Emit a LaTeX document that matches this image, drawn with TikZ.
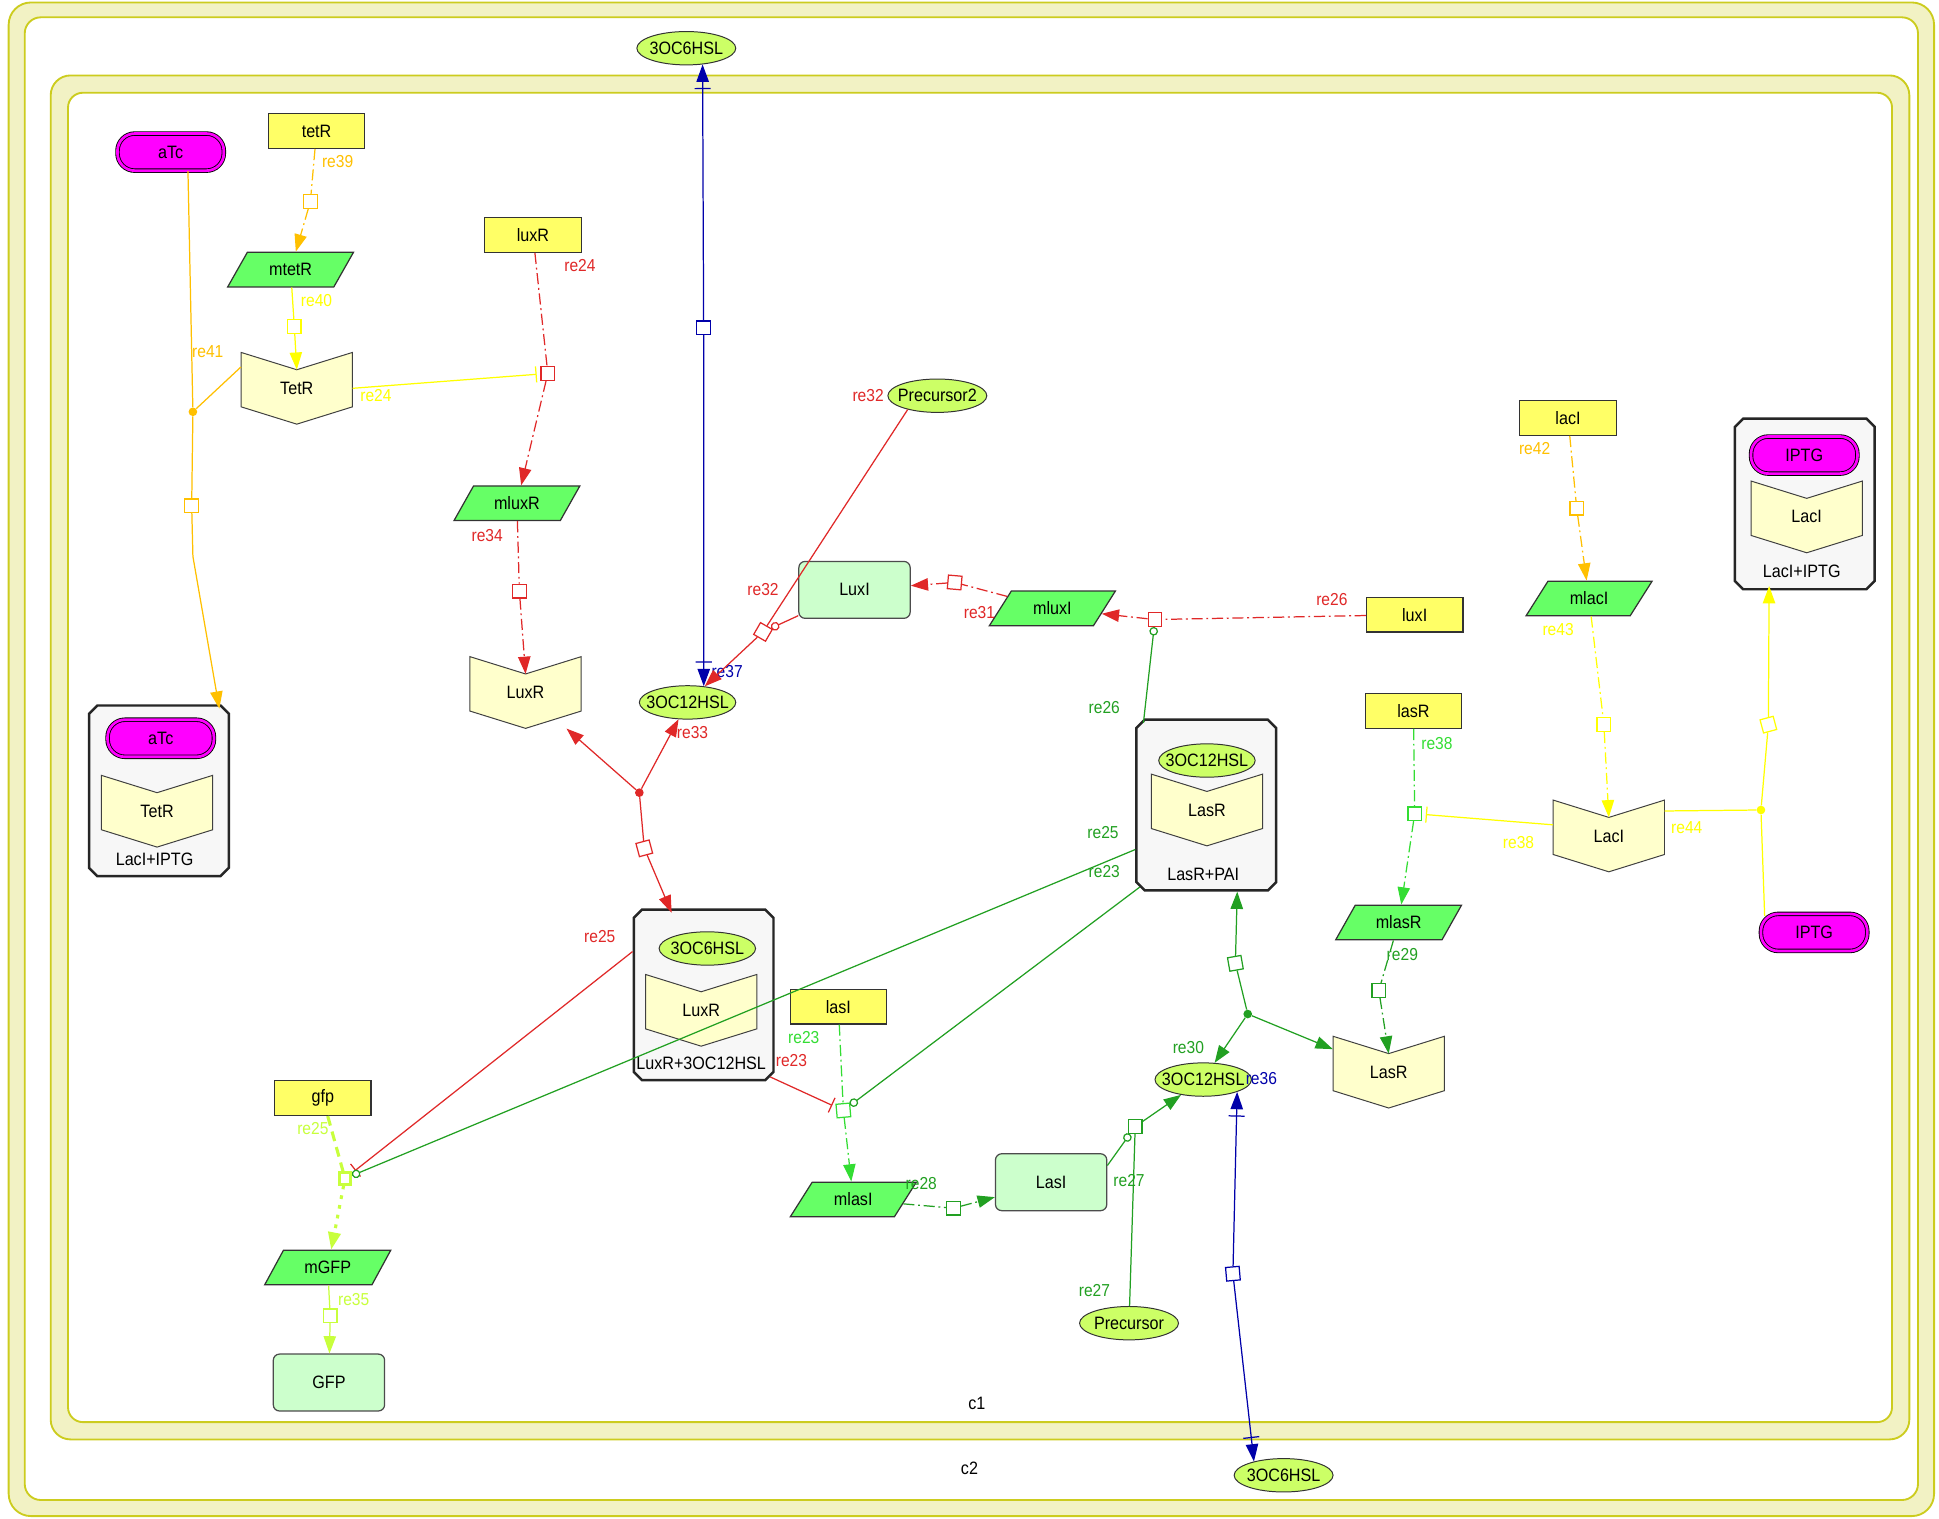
\documentclass[tikz,border=0pt]{standalone}
\usepackage{fontspec}
\setmainfont{Liberation Sans}[FakeStretch=0.9]
\usetikzlibrary{arrows.meta,shapes.geometric,shapes.misc,calc}

\definecolor{compfill}{HTML}{F2F2C4}
\definecolor{compline}{HTML}{CCCC1E}
\definecolor{genefill}{HTML}{FFFF66}
\definecolor{rnafill}{HTML}{66FF66}
\definecolor{rcptfill}{HTML}{FFFFCC}
\definecolor{protfill}{HTML}{CCFFCC}
\definecolor{molfill}{HTML}{CCFF66}
\definecolor{drugfill}{HTML}{FF00FF}
\definecolor{cxfill}{HTML}{F7F7F7}
\definecolor{reorange}{HTML}{FFC000}
\definecolor{reyellow}{HTML}{FFFF00}
\definecolor{rered}{HTML}{E02828}
\definecolor{regreen}{HTML}{22A022}
\definecolor{relgreen}{HTML}{33DD33}
\definecolor{reblue}{HTML}{0000AA}
\definecolor{reyg}{HTML}{C8FF3C}

\tikzset{
  nfont/.style={font=\fontsize{14.5}{16}\selectfont},
  lfont/.style={font=\fontsize{14}{16}\selectfont},
  gene/.style={nfont, draw=black!80, fill=genefill, line width=1pt, minimum width=78pt, minimum height=28pt, inner sep=0pt},
  rna/.style={nfont, trapezium, trapezium left angle=52, trapezium right angle=128, trapezium stretches=true, draw=black!80, fill=rnafill, line width=1pt, minimum width=102pt, minimum height=28pt, inner sep=0pt},
  prot/.style={nfont, rounded corners=5pt, draw=black!70, fill=protfill, line width=1pt, minimum width=90pt, minimum height=46pt},
  mol/.style={nfont, ellipse, draw=black!80, fill=molfill, line width=0.8pt, minimum width=80pt, minimum height=27pt, inner xsep=-14pt, inner ysep=0pt},
  drug/.style={nfont, rounded corners=14pt, draw=black, double=drugfill, double distance=2.2pt, fill=drugfill, line width=0.7pt, minimum width=86pt, minimum height=30pt},
  rcpt/.style={nfont, minimum width=90pt, minimum height=58pt, inner sep=0pt},
  rcptline/.style={draw=black!75, fill=rcptfill, line width=0.8pt},
  cplx/.style={chamfered rectangle, chamfered rectangle xsep=5pt, chamfered rectangle ysep=5pt, draw=black!85, line width=2pt, fill=cxfill, minimum width=113pt, minimum height=138pt},
  rx/.style={line width=1pt},
  transc/.style={dash pattern=on 9pt off 3pt on 1.5pt off 3pt},
  arr/.style={-{Triangle[length=14pt,width=10pt]}},
  tport/.style={-{Bar[width=13pt,sep=5pt]Triangle[length=14pt,width=10pt]}},
  inhib/.style={-{Bar[width=13pt]}, shorten >=3pt},
  catal/.style={-{Circle[open,length=7pt,fill=white]}},
  proc/.style={draw, fill=white, minimum size=11pt, inner sep=0pt, line width=1pt},
  junc/.style={circle, fill, minimum size=7pt, inner sep=0pt},
  comp/.style={draw=compline, line width=1.5pt},
}

% receptor: name, x, y, label
\newcommand{\receptor}[4]{%
  \filldraw[rcptline] (#2-45,#3-29) -- (#2,#3-15) -- (#2+45,#3-29) -- (#2+45,#3+15) -- (#2,#3+29) -- (#2-45,#3+15) -- cycle;
  \node[rcpt] (#1) at (#2,#3) {#4};
  \coordinate (#1n) at (#2,#3-15);
}

\begin{document}
\begin{tikzpicture}[x=1pt,y=-1pt]
\useasboundingbox (0,0) rectangle (1568,1228);

% compartments
\draw[comp, fill=compfill, rounded corners=18pt] (7,2) rectangle (1564,1226);
\draw[comp, fill=white, rounded corners=13pt] (20,14) rectangle (1551,1213);
\draw[comp, fill=compfill, rounded corners=16pt] (41,61) rectangle (1544,1164);
\draw[comp, fill=white, rounded corners=12pt] (55,75) rectangle (1530,1150);
\node[nfont] (c1) at (790,1135) {c1};
\node[nfont] (c2) at (784,1187) {c2};

% complexes
\node[cplx] (cxTet) at (128.5,639.5) {};
\node[drug] (aTc2) at (130,597) {aTc};
\receptor{TetR2}{127}{656}{TetR}
\node[nfont] (cxTetl) at (125,695) {LacI+IPTG};

\node[cplx] (cxLacI) at (1459.5,407.5) {};
\node[drug] (IPTG1) at (1459,368) {IPTG};
\receptor{LacI1}{1461}{418}{LacI}
\node[nfont] (cxLacIl) at (1457,462) {LacI+IPTG};

\node[cplx] (cxLasR) at (975.5,651) {};
\node[mol, minimum width=78pt] (hsl12c) at (976,615) {3OC12HSL};
\receptor{LasR1}{976}{655}{LasR}
\node[nfont] (cxLasRl) at (973,707) {LasR+PAI};

\node[cplx] (cxLuxR) at (569,804.5) {};
\node[mol, minimum width=78pt] (hsl6c) at (572,767) {3OC6HSL};
\receptor{LuxR2}{567}{817}{LuxR}
\node[nfont] (cxLuxRl) at (567,860) {LuxR+3OC12HSL};

% species
\node[drug] (aTc1) at (138,123) {aTc};
\node[drug] (IPTG2) at (1467,754) {IPTG};
\node[gene] (tetR) at (256,106) {tetR};
\node[gene] (luxR) at (431,190) {luxR};
\node[gene] (lacI) at (1268,338) {lacI};
\node[gene] (luxIg) at (1144,497) {luxI};
\node[gene] (lasRg) at (1143,575) {lasR};
\node[gene] (lasIg) at (678,814) {lasI};
\node[gene] (gfp) at (261,888) {gfp};
\node[rna] (mtetR) at (235,218) {mtetR};
\node[rna] (mluxR) at (418,407) {mluxR};
\node[rna] (mluxI) at (851,492) {mluxI};
\node[rna] (mlacI) at (1285,484) {mlacI};
\node[rna] (mlasR) at (1131,746) {mlasR};
\node[rna] (mlasI) at (690,970) {mlasI};
\node[rna] (mGFP) at (265,1025) {mGFP};
\receptor{TetR1}{240}{314}{TetR}
\receptor{LuxR1}{425}{560}{LuxR}
\receptor{LacI2}{1301}{676}{LacI}
\receptor{LasR2}{1123}{867}{LasR}
\node[prot] (LuxI) at (691,477) {LuxI};
\node[prot] (LasI) at (850,956) {LasI};
\node[prot] (GFP) at (266,1118) {GFP};
\node[mol] (hsl6a) at (555,39) {3OC6HSL};
\node[mol, minimum width=78pt] (hsl12a) at (556,568) {3OC12HSL};
\node[mol] (prec2) at (758,320) {Precursor2};
\node[mol, minimum width=78pt] (hsl12b) at (973,873) {3OC12HSL};
\node[mol] (prec) at (913,1070) {Precursor};
\node[mol] (hsl6b) at (1038,1193) {3OC6HSL};

% reaction labels
\node[lfont, text=reorange] (l39) at (273,131) {re39};
\node[lfont, text=reyellow] (l40) at (256,243) {re40};
\node[lfont, text=reorange] (l41) at (168,284) {re41};
\node[lfont, text=rered] (l24a) at (469,215) {re24};
\node[lfont, text=reyellow] (l24b) at (304,320) {re24};
\node[lfont, text=rered] (l34) at (394,433) {re34};
\node[lfont, text=rered] (l33) at (560,592) {re33};
\node[lfont, text=reblue] (l37) at (588,543) {re37};
\node[lfont, text=rered] (l32a) at (702,320) {re32};
\node[lfont, text=rered] (l32b) at (617,477) {re32};
\node[lfont, text=rered] (l31) at (792,495) {re31};
\node[lfont, text=rered] (l26a) at (1077,485) {re26};
\node[lfont, text=regreen] (l26b) at (893,572) {re26};
\node[lfont, text=reorange] (l42) at (1241,363) {re42};
\node[lfont, text=reyellow] (l43) at (1260,509) {re43};
\node[lfont, text=reyellow] (l44) at (1364,669) {re44};
\node[lfont, text=relgreen] (l38a) at (1162,601) {re38};
\node[lfont, text=reyellow] (l38b) at (1228,681) {re38};
\node[lfont, text=regreen] (l29) at (1134,772) {re29};
\node[lfont, text=regreen] (l30) at (961,847) {re30};
\node[lfont, text=reblue] (l36) at (1020,872) {re36};
\node[lfont, text=regreen] (l27a) at (913,955) {re27};
\node[lfont, text=regreen] (l27b) at (885,1044) {re27};
\node[lfont, text=regreen] (l28) at (745,957) {re28};
\node[lfont, text=relgreen] (l23a) at (650,839) {re23};
\node[lfont, text=rered] (l23b) at (640,858) {re23};
\node[lfont, text=regreen] (l23c) at (893,705) {re23};
\node[lfont, text=reyg] (l25a) at (253,913) {re25};
\node[lfont, text=rered] (l25b) at (485,757) {re25};
\node[lfont, text=regreen] (l25c) at (892,673) {re25};
\node[lfont, text=reyg] (l35) at (286,1051) {re35};

% re39, re40, re41
\node[proc, draw=reorange] (p39) at (251,163) {};
\draw[rx, reorange, transc] (tetR) -- (p39);
\draw[rx, reorange, transc, arr] (p39) -- (mtetR);
\node[proc, draw=reyellow] (p40) at (238,264) {};
\draw[rx, reyellow] (mtetR) -- (p40);
\draw[rx, reyellow, arr] (p40) -- (TetR1n);
\node[junc, reorange] (j41) at (156,333) {};
\node[proc, draw=reorange] (p41) at (155,409) {};
\draw[rx, reorange] ($(aTc1.south)+(14,0)$) -- (j41);
\draw[rx, reorange] ($(TetR1.north west)+(0,12)$) -- (j41);
\draw[rx, reorange] (j41) -- (p41);
\draw[rx, reorange, arr] (p41) -- (156,450) -- ($(cxTet.north east)+(-5,0)$);

% re24, re34, re33
\node[proc, draw=rered] (p24) at (443,302) {};
\draw[rx, rered, transc] (luxR) -- (p24);
\draw[rx, rered, transc, arr] (p24) -- (mluxR);
\draw[rx, reyellow, inhib] (TetR1.east) -- (p24);
\node[proc, draw=rered] (p34) at (420,478) {};
\draw[rx, rered, transc] (mluxR) -- (p34);
\draw[rx, rered, transc, arr] (p34) -- (LuxR1n);
\node[junc, rered] (j33) at (517,641) {};
\node[proc, draw=rered, rotate=15] (p33) at (521,686) {};
\draw[rx, rered, arr] (j33) -- (LuxR1);
\draw[rx, rered, arr] (j33) -- (hsl12a);
\draw[rx, rered] (j33) -- (p33);
\draw[rx, rered, arr] (p33) -- ($(cxLuxR.north west)+(28,0)$);

% re37, re32, re31, re26
\node[proc, draw=reblue] (p37) at (569,265) {};
\draw[rx, reblue, tport] (p37) -- (hsl6a.-45);
\draw[rx, reblue, tport] (p37) -- (hsl12a.45);
\node[proc, draw=rered, rotate=-30] (p32) at (617,511) {};
\draw[rx, rered] (prec2.-155) -- (p32);
\draw[rx, rered, arr] (p32) -- (hsl12a);
\draw[rx, rered, catal] (LuxI) -- (p32);
\node[proc, draw=rered, rotate=-5] (p31) at (772,471) {};
\draw[rx, rered, transc] (mluxI) -- (p31);
\draw[rx, rered, transc, arr] (p31) -- (LuxI);
\node[proc, draw=rered] (p26) at (934,501) {};
\draw[rx, rered, transc] (luxIg) -- (p26);
\draw[rx, rered, transc, arr] (p26) -- (mluxI);
\draw[rx, regreen, catal] ($(cxLasR.north west)+(3,0)$) -- (p26);

% re42, re43, re44, re38, re29
\node[proc, draw=reorange] (p42) at (1275,411) {};
\draw[rx, reorange, transc] (lacI) -- (p42);
\draw[rx, reorange, transc, arr] (p42) -- (mlacI);
\node[proc, draw=reyellow] (p43) at (1297,586) {};
\draw[rx, reyellow, transc] (mlacI) -- (p43);
\draw[rx, reyellow, transc, arr] (p43) -- (LacI2n);
\node[junc, reyellow] (j44) at (1424,655) {};
\node[proc, draw=reyellow, rotate=15] (p44) at (1430,586) {};
\draw[rx, reyellow] ($(IPTG2.north)+(-40,2)$) -- (j44);
\draw[rx, reyellow] ($(LacI2.north east)+(0,9)$) -- (j44);
\draw[rx, reyellow] (j44) -- (p44);
\draw[rx, reyellow, arr] (p44) -- ($(cxLacI.south west)+(25,0)$);
\node[proc, draw=relgreen] (p38) at (1144,658) {};
\draw[rx, relgreen, transc] (lasRg) -- (p38);
\draw[rx, relgreen, transc, arr] (p38) -- (mlasR);
\draw[rx, reyellow, inhib] ($(LacI2.west)+(0,-9)$) -- (p38);
\node[proc, draw=regreen] (p29) at (1115,801) {};
\draw[rx, regreen, transc] (mlasR) -- (p29);
\draw[rx, regreen, transc, arr] (p29) -- (LasR2n);

% re30, re36, re27, re28
\node[junc, regreen] (j30) at (1009,820) {};
\node[proc, draw=regreen, rotate=10] (p30) at (999,779) {};
\draw[rx, regreen] (j30) -- (p30);
\draw[rx, regreen, arr] (p30) -- ($(cxLasR.south)+(25,0)$);
\draw[rx, regreen, arr] (j30) -- (hsl12b);
\draw[rx, regreen, arr] (j30) -- (LasR2);
\node[proc, draw=reblue, rotate=5] (p36) at (997,1030) {};
\draw[rx, reblue, tport] (p36) -- (hsl12b.-20);
\draw[rx, reblue, tport] (p36) -- (hsl6b.155);
\node[proc, draw=regreen] (p27) at (918,911) {};
\draw[rx, regreen] (prec) -- (p27);
\draw[rx, regreen, arr] (p27) -- (hsl12b);
\draw[rx, regreen, catal] ($(LasI.north east)+(0,10)$) -- (p27);
\node[proc, draw=regreen] (p28) at (771,977) {};
\draw[rx, regreen, transc] (mlasI) -- (p28);
\draw[rx, regreen, transc, arr] (p28) -- (LasI);

% re23, re25, re35
\node[proc, draw=relgreen, rotate=5] (p23) at (682,898) {};
\draw[rx, relgreen, transc] (lasIg) -- (p23);
\draw[rx, relgreen, transc, arr] (p23) -- (mlasI);
\draw[rx, rered, inhib] (cxLuxR.south east) -- (p23);
\draw[rx, regreen, catal] (cxLasR.south west) -- (p23);
\node[proc, draw=reyg, line width=2.5pt, minimum size=9pt] (p25) at (279,953) {};
\draw[line width=2.5pt, reyg, dash pattern=on 8pt off 5pt] (gfp) -- (p25);
\draw[line width=2.5pt, reyg, dash pattern=on 3pt off 5pt, arr] (p25) -- (mGFP);
\draw[rx, rered, inhib] ($(cxLuxR.west)+(0,-35)$) -- (p25);
\draw[rx, regreen, catal] ($(cxLasR.west)+(0,36)$) -- (p25);
\node[proc, draw=reyg] (p35) at (267,1064) {};
\draw[rx, reyg] (mGFP) -- (p35);
\draw[rx, reyg, arr] (p35) -- (GFP);
\end{tikzpicture}
\end{document}
